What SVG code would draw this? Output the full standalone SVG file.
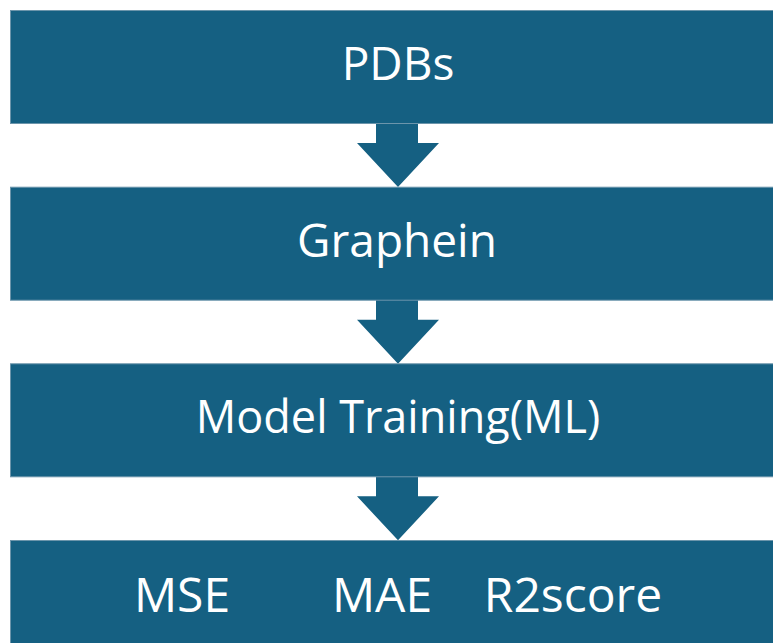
<svg xmlns="http://www.w3.org/2000/svg" width="773" height="643" viewBox="0 0 773 643">
<style>
.box{fill:#156082;stroke:#6c95ab;stroke-width:1}
.arr{fill:#156082}
.t{fill:#ffffff;font-family:"Open Sans","Noto Sans","Liberation Sans",sans-serif;font-size:46px;text-anchor:middle}
.s{font-size:45px}
.m{font-size:48px}
</style>
<rect width="773" height="643" fill="#ffffff"/>
<g id="connectors">
<polygon class="arr" points="376,123 418,123 418,143 439,143 398,187 357,143 376,143"/>
<polygon class="arr" points="376,299.7 418,299.7 418,319.7 439,319.7 398,363.7 357,319.7 376,319.7"/>
<polygon class="arr" points="376,476.3 418,476.3 418,496.3 439,496.3 398,540.3 357,496.3 376,496.3"/>
</g>
<g id="node-pdbs">
<rect class="box" x="10.5" y="10.5" width="780" height="113"/>
<text class="t" x="398" y="80">PDBs</text>
</g>
<g id="node-graphein">
<rect class="box" x="10.5" y="187.2" width="780" height="113"/>
<text class="t" x="397" y="257">Graphein</text>
</g>
<g id="node-model">
<rect class="box" x="10.5" y="363.8" width="780" height="113"/>
<text class="t s" x="398" y="433">Model Training(ML)</text>
</g>
<g id="node-metrics">
<rect class="box" x="10.5" y="540.5" width="780" height="113"/>
<text class="t m" x="182" y="612">MSE</text>
<text class="t m" x="382" y="612">MAE</text>
<text class="t m" x="573" y="612">R2score</text>
</g>
</svg>
